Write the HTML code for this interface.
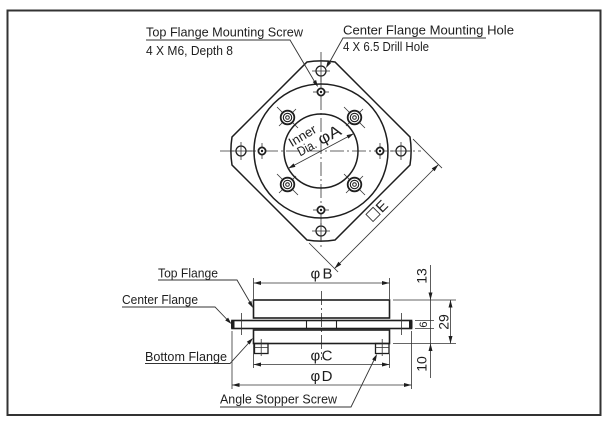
<!DOCTYPE html>
<html>
<head>
<meta charset="utf-8">
<style>
  html,body{margin:0;padding:0;background:#fff;}
  svg{display:block;}
  text{font-family:"Liberation Sans",Arial,sans-serif;fill:#1e1e1e;}
</style>
</head>
<body>
<svg width="608" height="428" viewBox="0 0 608 428" xmlns="http://www.w3.org/2000/svg">
  <rect x="0" y="0" width="608" height="428" fill="#fff"/>
  <!-- border -->
  <rect x="7.5" y="10.5" width="593" height="404.5" fill="none" stroke="#333" stroke-width="2"/>

  <!-- ============ TOP VIEW ============ -->
  <g stroke="#333" stroke-width="0.8" fill="none" stroke-dasharray="14 3 2 3">
    <line x1="321" y1="52" x2="321" y2="250"/>
    <line x1="220" y1="151" x2="421" y2="151"/>
  </g>

  <path d="M307,62 A89,89 0 0 1 335,62 L410,137 A89,89 0 0 1 410,165 L335,240 A89,89 0 0 1 307,240 L232,165 A89,89 0 0 1 232,137 Z"
        fill="none" stroke="#1e1e1e" stroke-width="1.5"/>
  <circle cx="321" cy="151" r="67" fill="none" stroke="#1e1e1e" stroke-width="1.5"/>
  <circle cx="321" cy="151" r="37" fill="none" stroke="#1e1e1e" stroke-width="1.5"/>

  <g fill="#fff" stroke="#1e1e1e" stroke-width="1.3">
    <circle cx="321" cy="71" r="5"/>
    <circle cx="321" cy="231" r="5"/>
    <circle cx="241" cy="151" r="5"/>
    <circle cx="401" cy="151" r="5"/>
  </g>
  <g stroke="#333" stroke-width="0.8">
    <line x1="312" y1="71" x2="330" y2="71"/>
    <line x1="321" y1="60" x2="321" y2="82"/>
    <line x1="312" y1="231" x2="330" y2="231"/>
    <line x1="321" y1="220" x2="321" y2="242"/>
    <line x1="241" y1="142" x2="241" y2="160"/>
    <line x1="230" y1="151" x2="252" y2="151"/>
    <line x1="401" y1="142" x2="401" y2="160"/>
    <line x1="390" y1="151" x2="412" y2="151"/>
  </g>

  <g stroke="#333" stroke-width="0.8">
    <line x1="313" y1="92" x2="329" y2="92"/>
    <line x1="313" y1="210" x2="329" y2="210"/>
    <line x1="262" y1="143" x2="262" y2="159"/>
    <line x1="380" y1="143" x2="380" y2="159"/>
  </g>
  <g fill="#fff" stroke="#1e1e1e" stroke-width="1.8">
    <circle cx="321" cy="92" r="3.6"/>
    <circle cx="321" cy="210" r="3.6"/>
    <circle cx="262" cy="151" r="3.6"/>
    <circle cx="380" cy="151" r="3.6"/>
  </g>
  <g fill="#1e1e1e">
    <circle cx="321" cy="92" r="1.2"/>
    <circle cx="321" cy="210" r="1.2"/>
    <circle cx="262" cy="151" r="1.2"/>
    <circle cx="380" cy="151" r="1.2"/>
  </g>

  <g stroke="#333" stroke-width="0.8">
    <line x1="277" y1="107" x2="298" y2="128"/><line x1="279" y1="126" x2="296" y2="109"/>
    <line x1="344" y1="107" x2="365" y2="128"/><line x1="346" y1="126" x2="363" y2="109"/>
    <line x1="277" y1="174" x2="298" y2="195"/><line x1="279" y1="193" x2="296" y2="176"/>
    <line x1="344" y1="174" x2="365" y2="195"/><line x1="346" y1="193" x2="363" y2="176"/>
  </g>
  <g fill="none" stroke="#1e1e1e">
    <circle cx="287.5" cy="117.5" r="6.8" stroke-width="1.8" fill="#fff"/>
    <circle cx="287.5" cy="117.5" r="4.2" stroke-width="1.1"/>
    <circle cx="287.5" cy="117.5" r="1.8" stroke-width="1"/>
    <circle cx="354.5" cy="117.5" r="6.8" stroke-width="1.8" fill="#fff"/>
    <circle cx="354.5" cy="117.5" r="4.2" stroke-width="1.1"/>
    <circle cx="354.5" cy="117.5" r="1.8" stroke-width="1"/>
    <circle cx="287.5" cy="184.5" r="6.8" stroke-width="1.8" fill="#fff"/>
    <circle cx="287.5" cy="184.5" r="4.2" stroke-width="1.1"/>
    <circle cx="287.5" cy="184.5" r="1.8" stroke-width="1"/>
    <circle cx="354.5" cy="184.5" r="6.8" stroke-width="1.8" fill="#fff"/>
    <circle cx="354.5" cy="184.5" r="4.2" stroke-width="1.1"/>
    <circle cx="354.5" cy="184.5" r="1.8" stroke-width="1"/>
  </g>

  <!-- Inner Dia. phi A dimension -->
  <g transform="translate(321,151) rotate(-28)">
    <line x1="-37" y1="0" x2="37" y2="0" stroke="#333" stroke-width="0.8"/>
    <polygon points="37,0 30,-2 30,2" fill="#1e1e1e"/>
    <polygon points="-37,0 -30,-2 -30,2" fill="#1e1e1e"/>
    <text x="-21" y="-5" font-size="13" textLength="20" lengthAdjust="spacingAndGlyphs">Dia.</text>
    <text x="3" y="-5" font-size="16" textLength="24" lengthAdjust="spacingAndGlyphs">φA</text>
    <text x="-24" y="-17" font-size="13" textLength="30" lengthAdjust="spacingAndGlyphs" transform="rotate(-3 -24 -17)">Inner</text>
  </g>

  <!-- E dimension -->
  <g transform="translate(386.5,216.5) rotate(-45)" stroke="#333" stroke-width="0.8">
    <line x1="-73.5" y1="0" x2="73.5" y2="0"/>
    <line x1="73.5" y1="-36" x2="73.5" y2="5"/>
    <line x1="-73.5" y1="-36" x2="-73.5" y2="5"/>
    <polygon points="73.5,0 66,-2 66,2" fill="#1e1e1e" stroke="none"/>
    <polygon points="-73.5,0 -66,-2 -66,2" fill="#1e1e1e" stroke="none"/>
    <rect x="-13" y="-16" width="10" height="10" fill="none" stroke="#333" stroke-width="0.9"/>
    <text x="-1" y="-5.5" font-size="15" stroke="none" textLength="11">E</text>
  </g>

  <!-- top labels -->
  <text x="146" y="36.5" font-size="13" textLength="157" lengthAdjust="spacingAndGlyphs">Top Flange Mounting Screw</text>
  <text x="146" y="55" font-size="13" textLength="87" lengthAdjust="spacingAndGlyphs">4 X M6, Depth 8</text>
  <text x="343" y="34.5" font-size="13" textLength="171" lengthAdjust="spacingAndGlyphs">Center Flange Mounting Hole</text>
  <text x="343" y="51" font-size="13" textLength="86" lengthAdjust="spacingAndGlyphs">4 X 6.5 Drill Hole</text>
  <g stroke="#333" stroke-width="0.9" fill="none">
    <polyline points="146,40 290,40 316,84"/>
    <polyline points="486,38 343,38 328,65"/>
  </g>
  <polygon points="318,87 312.7,82 316.1,80" fill="#1e1e1e"/>
  <polygon points="326,68 327.7,60.9 331.2,62.9" fill="#1e1e1e"/>

  <!-- ============ SIDE VIEW ============ -->
  <line x1="321.5" y1="291" x2="321.5" y2="360" stroke="#333" stroke-width="0.8" stroke-dasharray="14 3 2 3"/>
  <rect x="253.5" y="300" width="136" height="18" fill="none" stroke="#1e1e1e" stroke-width="1.6"/>
  <rect x="232" y="320.5" width="179.5" height="8" fill="none" stroke="#1e1e1e" stroke-width="1.6"/>
  <line x1="306.5" y1="320.5" x2="306.5" y2="328.5" stroke="#1e1e1e" stroke-width="1.1"/>
  <line x1="336.5" y1="320.5" x2="336.5" y2="328.5" stroke="#1e1e1e" stroke-width="1.1"/>
  <rect x="231" y="320" width="3.5" height="9" rx="1.5" fill="#1e1e1e"/>
  <rect x="409" y="320" width="3.5" height="9" rx="1.5" fill="#1e1e1e"/>
  <rect x="253.5" y="330" width="136" height="13.5" fill="none" stroke="#1e1e1e" stroke-width="1.6"/>
  <rect x="254.5" y="343.5" width="13.5" height="10" fill="none" stroke="#1e1e1e" stroke-width="1.3"/>
  <rect x="375.5" y="343.5" width="13.5" height="10" fill="none" stroke="#1e1e1e" stroke-width="1.3"/>
  <g stroke="#333" stroke-width="0.8">
    <line x1="261.2" y1="339" x2="261.2" y2="356"/>
    <line x1="254.5" y1="347.5" x2="268" y2="347.5"/>
    <line x1="382.2" y1="339" x2="382.2" y2="356"/>
    <line x1="375.5" y1="347.5" x2="389" y2="347.5"/>
    <line x1="241.5" y1="313" x2="241.5" y2="335"/>
    <line x1="401.5" y1="313" x2="401.5" y2="335"/>
  </g>

  <g stroke="#333" stroke-width="0.8">
    <line x1="253.5" y1="278" x2="253.5" y2="299"/>
    <line x1="389.5" y1="278" x2="389.5" y2="299"/>
    <line x1="253.5" y1="283" x2="389.5" y2="283"/>
    <line x1="253.5" y1="344" x2="253.5" y2="368"/>
    <line x1="389.5" y1="354" x2="389.5" y2="368"/>
    <line x1="253.5" y1="364.5" x2="389.5" y2="364.5"/>
    <line x1="232" y1="331" x2="232" y2="389"/>
    <line x1="411.5" y1="331" x2="411.5" y2="389"/>
    <line x1="232" y1="385" x2="411.5" y2="385"/>
    <line x1="393" y1="300" x2="456" y2="300"/>
    <line x1="393" y1="343.5" x2="456" y2="343.5"/>
    <line x1="415" y1="320.5" x2="434" y2="320.5"/>
    <line x1="415" y1="328.5" x2="434" y2="328.5"/>
    <line x1="430.5" y1="265" x2="430.5" y2="378"/>
    <line x1="450.5" y1="300" x2="450.5" y2="343.5"/>
  </g>
  <g fill="#1e1e1e">
    <polygon points="253.5,283 261,281 261,285"/>
    <polygon points="389.5,283 382,281 382,285"/>
    <polygon points="253.5,364.5 261,362.5 261,366.5"/>
    <polygon points="389.5,364.5 382,362.5 382,366.5"/>
    <polygon points="232,385 239.5,383 239.5,387"/>
    <polygon points="411.5,385 404,383 404,387"/>
    <polygon points="430.5,300 428.5,292.5 432.5,292.5"/>
    <polygon points="430.5,343.5 428.5,351 432.5,351"/>
    <polygon points="450.5,300 448.5,307.5 452.5,307.5"/>
    <polygon points="450.5,343.5 448.5,336 452.5,336"/>
  </g>

  <text x="321.5" y="278.5" font-size="15" text-anchor="middle" textLength="22">φB</text>
  <text x="321.5" y="360.5" font-size="15" text-anchor="middle" textLength="22">φC</text>
  <text x="321.5" y="381" font-size="15" text-anchor="middle" textLength="22">φD</text>
  <text transform="translate(426.5,276) rotate(-90)" font-size="14" text-anchor="middle">13</text>
  <text transform="translate(426.5,364) rotate(-90)" font-size="14" text-anchor="middle">10</text>
  <text transform="translate(448.5,322) rotate(-90)" font-size="14" text-anchor="middle">29</text>
  <text transform="translate(427,324.5) rotate(-90)" font-size="11" text-anchor="middle">6</text>

  <text x="158" y="277.5" font-size="13" textLength="60" lengthAdjust="spacingAndGlyphs">Top Flange</text>
  <text x="122" y="304" font-size="13" textLength="76" lengthAdjust="spacingAndGlyphs">Center Flange</text>
  <text x="145" y="361" font-size="13" textLength="82" lengthAdjust="spacingAndGlyphs">Bottom Flange</text>
  <text x="220" y="403.5" font-size="13" textLength="117" lengthAdjust="spacingAndGlyphs">Angle Stopper Screw</text>
  <g stroke="#333" stroke-width="0.9" fill="none">
    <polyline points="158,280 237,280 251,304"/>
    <polyline points="122,307 215,307 228.5,321"/>
    <polyline points="145,363.5 230,363.5 250.5,341"/>
    <polyline points="220,407 351,407 375,358"/>
  </g>
  <g fill="#1e1e1e">
    <polygon points="253,308 247.8,302.9 251.3,300.9"/>
    <polygon points="231.5,324 225.2,320.4 228.1,317.6"/>
    <polygon points="253,338 249.7,344.5 246.8,341.8"/>
    <polygon points="377,354 375.7,361.2 372.1,359.4"/>
  </g>
</svg>
</body>
</html>
